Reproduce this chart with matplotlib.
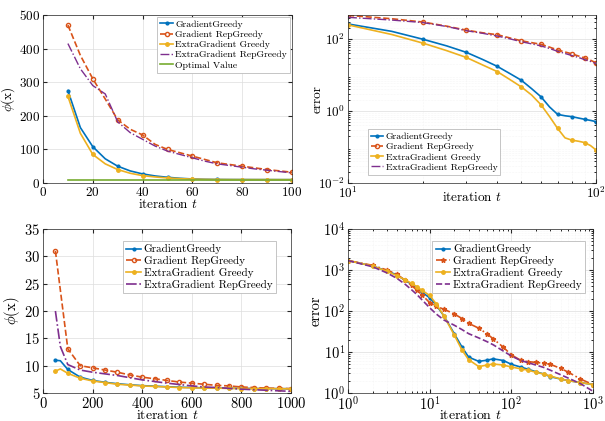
import matplotlib
matplotlib.use("Agg")
import matplotlib.pyplot as plt
from matplotlib.ticker import NullFormatter

plt.rcParams['font.family'] = 'serif'
plt.rcParams['font.serif'] = ['cmr10']
plt.rcParams['mathtext.fontset'] = 'cm'
plt.rcParams['axes.formatter.use_mathtext'] = True
plt.rcParams['axes.unicode_minus'] = False

c_blue = '#0072BD'
c_orange = '#D95319'
c_yellow = '#EDB120'
c_purple = '#7E2F8E'
c_green = '#77AC30'
labels = ["GradientGreedy", "Gradient RepGreedy", "ExtraGradient Greedy", "ExtraGradient RepGreedy"]

# top left: phi tilde vs iteration
t1 = [10, 15, 20, 25, 30, 35, 40, 45, 50, 55, 60, 65, 70, 75, 80, 85, 90, 95, 100]
phi1_g = [275, 165, 108, 72, 50, 36, 27, 21, 17, 14, 12, 11, 10.5, 10.3, 10.2, 10.1, 10.1, 10.0, 10.0]
phi1_rg = [470, 380, 310, 250, 188, 160, 143, 115, 100, 90, 80, 70, 60, 55, 50, 45, 40, 36, 32]
phi1_eg = [258, 148, 85, 57, 40, 29, 22, 18, 15, 13, 11.5, 10.8, 10.4, 10.2, 10.1, 10.1, 10.0, 10.0, 10.0]
phi1_erg = [415, 340, 290, 265, 182, 150, 130, 110, 95, 85, 75, 65, 57, 52, 47, 42, 38, 34, 30]
t1_opt = [10, 100]
phi1_opt = [10, 10]

# top right: error vs iteration (log-log)
t2 = [10, 15, 20, 25, 30, 35, 40, 45, 50, 55, 60, 65, 70, 75, 80, 85, 90, 95, 100]
err2_g = [265, 165, 100, 65, 43, 27, 17.5, 11, 7.2, 4.2, 2.5, 1.3, 0.81, 0.74, 0.70, 0.64, 0.59, 0.55, 0.51]
err2_rg = [460, 370, 300, 230, 178, 150, 133, 108, 90, 80, 72, 60, 50, 44, 39, 34, 30, 26, 22]
err2_eg = [250, 135, 78, 48, 31, 19, 12.5, 7.5, 4.7, 2.8, 1.5, 0.7, 0.33, 0.18, 0.155, 0.145, 0.133, 0.11, 0.083]
err2_erg = [405, 340, 290, 225, 172, 145, 122, 102, 85, 74, 65, 55, 46, 40, 35, 31, 27, 24, 21]

# bottom left: phi vs iteration
t3 = [50, 70, 100, 150, 200, 250, 300, 350, 400, 450, 500, 550, 600, 650, 700, 750, 800, 850, 900, 950, 1000]
phi3_g = [11.0, 10.9, 9.3, 7.9, 7.3, 6.95, 6.7, 6.5, 6.35, 6.25, 6.15, 6.05, 6.0, 5.95, 5.9, 5.87, 5.85, 5.82, 5.8, 5.8, 5.78]
phi3_rg = [31.0, 23.8, 13.1, 10.0, 9.6, 9.2, 8.8, 8.3, 7.9, 7.6, 7.3, 7.0, 6.8, 6.6, 6.4, 6.3, 6.1, 6.0, 5.9, 5.85, 5.8]
phi3_eg = [9.0, 9.4, 8.6, 7.7, 7.2, 6.9, 6.6, 6.45, 6.3, 6.2, 6.1, 6.0, 5.95, 5.9, 5.88, 5.85, 5.82, 5.8, 5.8, 5.78, 5.77]
phi3_erg = [20.0, 13.5, 10.2, 9.2, 8.8, 8.5, 8.2, 7.8, 7.4, 7.1, 6.8, 6.55, 6.3, 6.1, 6.0, 5.85, 5.7, 5.6, 5.5, 5.4, 5.3]

# bottom right: error vs iteration (log-log)
t4 = [1, 2, 3, 4, 5, 6, 7, 8, 10, 12, 15, 20, 25, 30, 40, 50, 60, 80, 100, 130, 160, 200, 250, 300, 400, 500, 700, 1000]
err4_g = [1700, 1250, 950, 750, 560, 450, 360, 290, 210, 140, 75, 28, 13, 7.5, 5.9, 6.3, 6.8, 6.2, 5.0, 4.3, 3.8, 3.3, 2.9, 2.5, 2.2, 2.0, 1.8, 1.6]
err4_rg = [1700, 1300, 1000, 780, 560, 420, 320, 250, 160, 130, 110, 85, 65, 50, 38, 28, 21, 13, 8.5, 6.3, 5.8, 5.6, 5.3, 5.0, 4.0, 3.2, 2.2, 1.6]
err4_eg = [1700, 1250, 930, 720, 580, 470, 390, 320, 240, 150, 75, 26, 11, 6.5, 4.4, 4.8, 5.1, 4.8, 4.3, 3.9, 3.6, 3.2, 2.9, 2.6, 2.2, 2.0, 1.8, 1.6]
err4_erg = [1700, 1200, 850, 620, 450, 330, 250, 190, 120, 85, 60, 45, 35, 28, 22, 18, 15, 10.5, 8, 6.2, 5.5, 4.8, 4.2, 3.6, 2.8, 2.3, 1.7, 1.1]


def style(ax, fs, log=False):
    ax.tick_params(direction='in', top=True, right=True, labelsize=fs, length=3,
                   color='#262626', pad=2)
    ax.tick_params(which='minor', direction='in', top=True, right=True, length=1.5)
    for s in ax.spines.values():
        s.set_color('#262626')
        s.set_linewidth(0.5)
    ax.grid(True, which='major', color='#dddddd', linewidth=0.5)
    if log:
        ax.grid(True, which='minor', color='#eeeeee', linewidth=0.4, linestyle=':')
        ax.xaxis.set_minor_formatter(NullFormatter())
        ax.yaxis.set_minor_formatter(NullFormatter())
    ax.set_axisbelow(True)


def legend(ax, fs, **kw):
    lg = ax.legend(fontsize=fs, handlelength=1.3, handletextpad=0.25,
                   labelspacing=0.15, borderpad=0.3, framealpha=1, fancybox=False,
                   edgecolor='#bbbbbb', **kw)
    lg.get_frame().set_linewidth(0.6)


fig = plt.figure(figsize=(6.05, 4.21), dpi=100)
W, H = 605.0, 421.0


def axes_px(l, t, r, b):
    return fig.add_axes([l / W, 1 - b / H, (r - l) / W, (b - t) / H])


# ---- top left
ax = axes_px(43, 15, 292, 183)
ev = list(range(0, 19, 2))
ax.plot(t1, phi1_g, '-', color=c_blue, marker='.', ms=4, lw=1.2, markevery=ev, label=labels[0])
ax.plot(t1, phi1_rg, '--', color=c_orange, marker='o', ms=3, mfc='none', lw=1.2, markevery=ev, label=labels[1])
ax.plot(t1, phi1_eg, '-', color=c_yellow, marker='.', ms=5, lw=1.2, markevery=ev, label=labels[2])
ax.plot(t1, phi1_erg, '-.', color=c_purple, lw=1.0, label=labels[3])
ax.plot(t1_opt, phi1_opt, '-', color=c_green, lw=1.2, label="Optimal Value")
ax.set_xlim(0, 100)
ax.set_ylim(0, 500)
ax.set_xticks([0, 20, 40, 60, 80, 100])
ax.set_yticks([0, 100, 200, 300, 400, 500])
style(ax, 9.5)
ax.set_xlabel(r"iteration $t$", fontsize=9.5)
ax.xaxis.set_label_coords(0.5, -0.09)
ax.set_ylabel(r"$\tilde{\phi}(\mathrm{x})$", fontsize=9.5)
ax.yaxis.set_label_coords(-0.1, 0.5)
legend(ax, 7, loc='upper right', borderaxespad=0.2)

# ---- top right
ax = axes_px(348, 15, 596, 183)
ax.loglog(t2, err2_g, '-', color=c_blue, marker='.', ms=4, lw=1.2, markevery=ev, label=labels[0])
ax.loglog(t2, err2_rg, '--', color=c_orange, marker='o', ms=3, mfc='none', lw=1.2, markevery=ev, label=labels[1])
ax.loglog(t2, err2_eg, '-', color=c_yellow, marker='.', ms=5, lw=1.2, markevery=ev, label=labels[2])
ax.loglog(t2, err2_erg, '-.', color=c_purple, lw=1.0, label=labels[3])
ax.set_xlim(10, 100)
ax.set_ylim(1e-2, 470)
ax.set_yticks([1e-2, 1e0, 1e2])
style(ax, 9.5, log=True)
ax.set_xlabel(r"iteration $t$", fontsize=9.5)
ax.xaxis.set_label_coords(0.5, -0.05)
ax.set_ylabel("error", fontsize=9.5)
ax.yaxis.set_label_coords(-0.1, 0.5)
legend(ax, 7, loc='lower left', bbox_to_anchor=(0.06, 0.02))

# ---- bottom left
ax = axes_px(43, 229, 291, 393)
ev3 = [0] + list(range(2, 21))
ax.plot(t3, phi3_g, '-', color=c_blue, marker='.', ms=4, lw=1.2, markevery=ev3, label=labels[0])
ax.plot(t3, phi3_rg, '--', color=c_orange, marker='o', ms=3, mfc='none', lw=1.2, markevery=ev3, label=labels[1])
ax.plot(t3, phi3_eg, '-', color=c_yellow, marker='.', ms=5, lw=1.2, markevery=ev3, label=labels[2])
ax.plot(t3, phi3_erg, '-.', color=c_purple, lw=1.2, label=labels[3])
ax.set_xlim(0, 1000)
ax.set_ylim(5, 35)
ax.set_xticks([0, 200, 400, 600, 800, 1000])
ax.set_yticks([5, 10, 15, 20, 25, 30, 35])
style(ax, 10.5)
ax.set_xlabel(r"iteration $t$", fontsize=10)
ax.xaxis.set_label_coords(0.5, -0.097)
ax.set_ylabel(r"$\phi(\mathrm{x})$", fontsize=10.5)
ax.yaxis.set_label_coords(-0.085, 0.5)
legend(ax, 8, loc='upper right', bbox_to_anchor=(0.96, 0.96))

# ---- bottom right
ax = axes_px(348, 229, 593, 393)
ax.loglog(t4, err4_g, '-', color=c_blue, marker='.', ms=4, lw=1.2, label=labels[0])
ax.loglog(t4, err4_rg, '-.', color=c_orange, marker='*', ms=3.5, lw=1.2, label=labels[1])
ax.loglog(t4, err4_eg, '-', color=c_yellow, marker='.', ms=5, lw=1.2, label=labels[2])
ax.loglog(t4, err4_erg, '--', color=c_purple, lw=1.2, label=labels[3])
ax.set_xlim(1, 1000)
ax.set_ylim(1, 1e4)
style(ax, 10.5, log=True)
ax.set_xlabel(r"iteration $t$", fontsize=10)
ax.xaxis.set_label_coords(0.5, -0.097)
ax.set_ylabel("error", fontsize=10.5)
ax.yaxis.set_label_coords(-0.105, 0.5)
legend(ax, 8, loc='upper right', bbox_to_anchor=(0.99, 0.96))

fig.savefig("out.png", dpi=100)
